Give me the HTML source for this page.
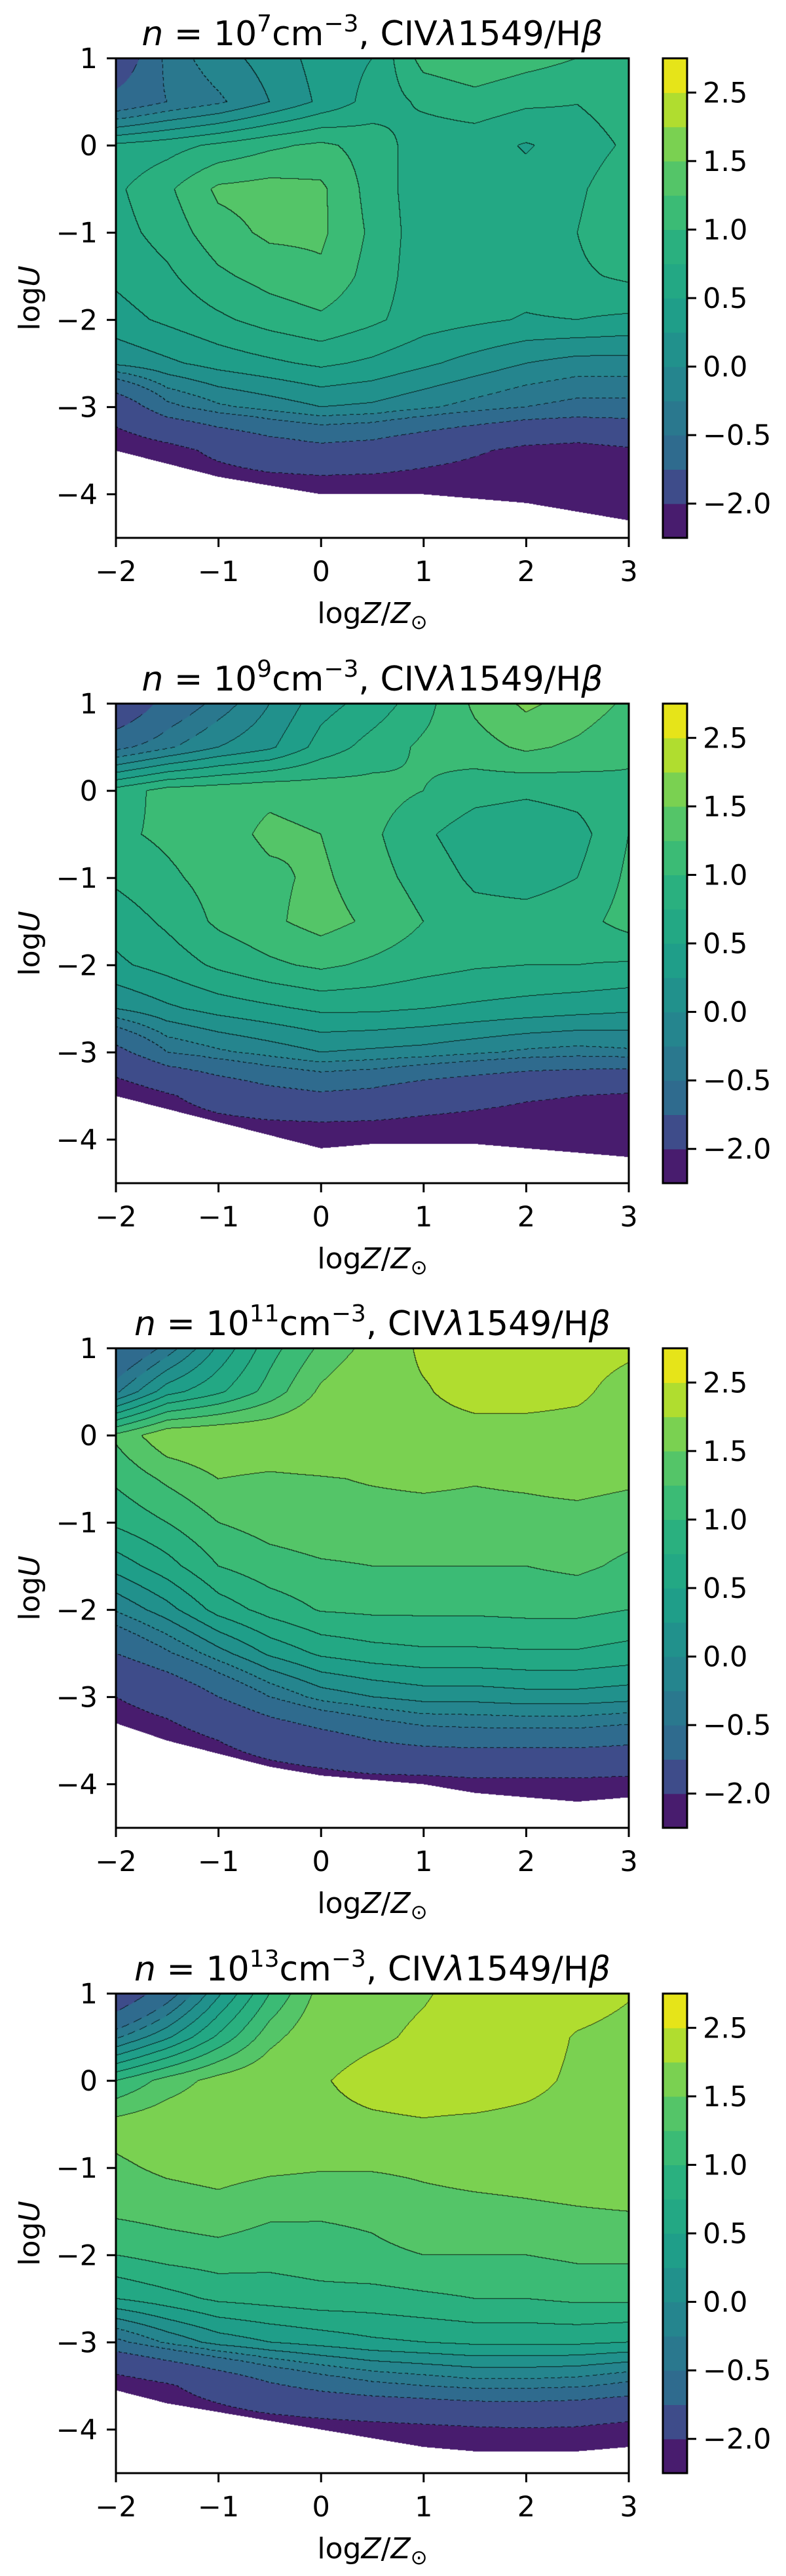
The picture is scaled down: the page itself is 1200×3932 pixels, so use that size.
<!DOCTYPE html>
<html>
<head>
<meta charset="utf-8">
<style>
  html, body { margin: 0; padding: 0; background: #ffffff; }
  #page { position: relative; width: 1200px; height: 3932px; overflow: hidden; background: #fff; }
  canvas { position: absolute; }
  svg { position: absolute; left: 0; top: 0; }
  text { font-family: "DejaVu Sans", "Liberation Sans", sans-serif; fill: #000; }
</style>
</head>
<body>
<div id="page">
  <svg id="overlay" width="1200" height="3932"></svg>
</div>
<script>
// ---------- data ----------
const xCategories = [-2, -1.5, -1, -0.5, 0, 0.5, 1, 1.5, 2, 2.5, 3];
const yCategories = [1, 0.5, 0, -0.5, -1, -1.5, -2, -2.5, -3, -3.5, -4, -4.5];
const levels = [-2, -1, -0.5, -0.25, 0, 0.25, 0.5, 0.75, 1, 1.25, 1.5, 2, 2.5];
const bandColors = ['#481c6e','#3e4c8a','#2f6b8e','#2a788e','#25858e','#21918c','#1f9e89','#23a884','#2ab07f','#3bbb75','#54c568','#7ad151','#b0dd2f','#e6e419'];
const xTicks = [-2, -1, 0, 1, 2, 3];
const yTicks = [1, 0, -1, -2, -3, -4];
const cbTicks = [2.5, 1.5, 1.0, 0.5, 0.0, -0.5, -2.0];
const densityExponents = [7, 9, 11, 13];

const grid7 = [
  [-1.5,-0.4,-0.1,0.1,0.35,0.5,1.1,1.2,1.1,1.0,0.95],
  [-0.8,-0.5,-0.3,0.0,0.3,0.6,0.8,0.9,0.8,0.76,0.9],
  [0.55,0.65,0.8,0.95,1.05,0.9,0.6,0.6,0.48,0.6,0.8],
  [0.7,0.95,1.3,1.35,1.3,0.9,0.6,0.58,0.58,0.7,0.95],
  [0.65,0.85,1.15,1.3,1.3,0.95,0.6,0.6,0.6,0.75,1.0],
  [0.55,0.7,0.95,1.1,1.2,0.9,0.6,0.6,0.6,0.7,0.8],
  [0.4,0.55,0.7,0.85,0.95,0.8,0.62,0.55,0.48,0.5,0.45],
  [0.05,0.2,0.35,0.45,0.55,0.45,0.3,0.15,0.0,-0.1,-0.1],
  [-1.5,-0.6,-0.3,-0.15,0.0,-0.05,-0.2,-0.35,-0.5,-0.6,-0.6],
  [-2.6,-2.3,-1.8,-1.4,-1.2,-1.3,-1.6,-1.9,-2.2,-2.3,-2.1],
  [-2.6,-2.6,-2.6,-2.6,-2.6,-2.6,-2.6,-2.6,-2.6,-2.6,-2.6],
  [-2.8,-2.8,-2.8,-2.8,-2.8,-2.8,-2.8,-2.8,-2.8,-2.8,-2.8]
];
const lower7 = [-3.5,-3.65,-3.8,-3.9,-4.0,-4.0,-4.0,-4.05,-4.1,-4.2,-4.3];

const grid9 = [
  [-1.6,-0.8,-0.4,0.0,0.4,0.6,0.9,1.3,1.55,1.4,1.2],
  [-0.6,-0.3,0.0,0.2,0.6,0.85,1.05,1.15,1.3,1.2,1.05],
  [0.85,1.1,1.15,1.2,1.15,1.1,1.0,0.85,0.8,0.85,0.95],
  [0.95,1.05,1.15,1.3,1.25,1.05,0.8,0.6,0.55,0.65,1.0],
  [0.8,0.95,1.1,1.2,1.3,1.1,0.9,0.7,0.65,0.75,1.05],
  [0.6,0.8,1.05,1.2,1.35,1.2,1.0,0.85,0.85,0.9,1.1],
  [0.45,0.6,0.8,0.95,1.05,0.95,0.85,0.78,0.75,0.75,0.72],
  [0.0,0.2,0.35,0.45,0.55,0.55,0.5,0.45,0.4,0.35,0.3],
  [-1.2,-0.5,-0.3,-0.15,0.0,-0.05,-0.1,-0.2,-0.3,-0.35,-0.3],
  [-2.6,-2.1,-1.6,-1.25,-1.1,-1.2,-1.5,-1.7,-1.9,-2.0,-2.1],
  [-2.6,-2.6,-2.6,-2.6,-2.6,-2.6,-2.6,-2.6,-2.6,-2.6,-2.6],
  [-2.8,-2.8,-2.8,-2.8,-2.8,-2.8,-2.8,-2.8,-2.8,-2.8,-2.8]
];
const lower9 = [-3.5,-3.65,-3.8,-3.95,-4.1,-4.05,-4.05,-4.05,-4.1,-4.15,-4.2];

const grid11 = [
  [-1.0,-0.4,0.3,0.9,1.3,1.6,2.1,2.2,2.2,2.2,2.1],
  [-0.3,0.4,0.7,1.1,1.55,1.8,1.95,2.2,2.2,2.1,1.8],
  [1.3,1.7,1.75,1.75,1.8,1.85,1.8,1.8,1.8,1.8,1.75],
  [1.05,1.3,1.5,1.45,1.48,1.52,1.55,1.52,1.55,1.6,1.55],
  [0.8,1.0,1.25,1.35,1.4,1.4,1.4,1.4,1.4,1.4,1.35],
  [0.35,0.65,1.0,1.15,1.22,1.25,1.25,1.25,1.25,1.3,1.2],
  [-0.22,0.15,0.6,0.85,1.02,1.05,1.05,1.05,1.07,1.07,1.0],
  [-1.0,-0.55,-0.1,0.3,0.55,0.65,0.7,0.7,0.72,0.72,0.65],
  [-2.0,-1.6,-1.0,-0.5,-0.15,0.0,0.1,0.1,0.15,0.15,0.1],
  [-2.6,-2.4,-2.0,-1.6,-1.3,-1.0,-0.8,-0.75,-0.75,-0.75,-0.85],
  [-2.8,-2.7,-2.6,-2.5,-2.4,-2.3,-2.3,-2.2,-2.2,-2.2,-2.25],
  [-2.8,-2.8,-2.8,-2.8,-2.8,-2.8,-2.8,-2.8,-2.8,-2.8,-2.8]
];
const lower11 = [-3.3,-3.5,-3.65,-3.8,-3.9,-3.95,-4.0,-4.1,-4.15,-4.2,-4.15];

const grid13 = [
  [-1.5,-0.7,0.2,1.0,1.6,1.8,1.95,2.2,2.3,2.3,2.05],
  [-0.3,0.2,0.8,1.4,1.75,1.9,2.1,2.3,2.3,1.95,1.8],
  [1.0,1.35,1.6,1.75,1.95,2.2,2.3,2.3,2.15,1.9,1.8],
  [1.6,1.7,1.75,1.8,1.85,1.9,1.95,1.9,1.85,1.8,1.8],
  [1.45,1.55,1.6,1.55,1.52,1.52,1.55,1.6,1.62,1.65,1.7],
  [1.3,1.35,1.4,1.3,1.28,1.3,1.4,1.42,1.45,1.48,1.5],
  [1.0,1.1,1.15,1.1,1.15,1.2,1.25,1.25,1.25,1.3,1.3],
  [0.5,0.65,0.8,0.85,0.9,0.9,0.95,1.0,1.0,1.05,1.05],
  [-0.6,-0.2,0.1,0.25,0.35,0.45,0.5,0.55,0.55,0.55,0.5],
  [-2.5,-2.1,-1.6,-1.1,-0.8,-0.6,-0.5,-0.4,-0.4,-0.45,-0.6],
  [-2.7,-2.65,-2.6,-2.5,-2.4,-2.3,-2.2,-2.1,-2.05,-2.1,-2.3],
  [-2.8,-2.8,-2.8,-2.8,-2.8,-2.8,-2.8,-2.8,-2.8,-2.8,-2.8]
];
const lower13 = [-3.55,-3.7,-3.8,-3.9,-4.0,-4.1,-4.2,-4.25,-4.25,-4.25,-4.2];

const panelGrids = [grid7, grid9, grid11, grid13];
const panelLowers = [lower7, lower9, lower11, lower13];

// ---------- layout ----------
const AX_L = 177, AX_W = 783, AX_H = 732;
const PANEL_TOPS = [89, 1074, 2058, 3043];
const CB_L = 1012, CB_W = 37;
const X_MIN = xCategories[0], X_MAX = xCategories[xCategories.length - 1];
const Y_MAX = yCategories[0];
const Y_MIN = -4.5;

function xScale(v) { return AX_L + (v - X_MIN) / (X_MAX - X_MIN) * AX_W; }
function yScale(v, top) { return top + (Y_MAX - v) / (Y_MAX - Y_MIN) * AX_H; }
function bandOf(v) { let b = 0; for (let i = 0; i < levels.length; i++) if (v >= levels[i]) b = i + 1; return b; }
function hexToRgb(h) { return [parseInt(h.substr(1,2),16), parseInt(h.substr(3,2),16), parseInt(h.substr(5,2),16)]; }
function fmt(v) { return v.toFixed(1).replace('-', '\u2212'); }
function fmtInt(v) { return String(v).replace('-', '\u2212'); }

const page = document.getElementById('page');
const svg = document.getElementById('overlay');
const NS = 'http://www.w3.org/2000/svg';

function drawContours(ctx, grid, lower) {
  const W = AX_W, H = AX_H;
  const img = ctx.createImageData(W, H);
  const band = new Int8Array(W * H);
  const nx = xCategories.length, ny = yCategories.length;
  const dx = xCategories[1] - xCategories[0];
  const dy = yCategories[0] - yCategories[1];
  for (let py = 0; py < H; py++) {
    const y = Y_MAX - (py + 0.5) / H * (Y_MAX - Y_MIN);
    let fy = (yCategories[0] - y) / dy;
    let j0 = Math.min(Math.floor(fy), ny - 2); if (j0 < 0) j0 = 0;
    const ty = fy - j0;
    for (let px = 0; px < W; px++) {
      const x = X_MIN + (px + 0.5) / W * (X_MAX - X_MIN);
      let fx = (x - xCategories[0]) / dx;
      let i0 = Math.min(Math.floor(fx), nx - 2); if (i0 < 0) i0 = 0;
      const tx = fx - i0;
      const lb = lower[i0] * (1 - tx) + lower[i0 + 1] * tx;
      const k = py * W + px;
      if (y < lb) { band[k] = -1; continue; }
      const v = grid[j0][i0] * (1 - tx) * (1 - ty) + grid[j0][i0 + 1] * tx * (1 - ty) +
                grid[j0 + 1][i0] * (1 - tx) * ty + grid[j0 + 1][i0 + 1] * tx * ty;
      band[k] = bandOf(v);
    }
  }
  const rgb = bandColors.map(hexToRgb);
  for (let py = 0; py < H; py++) {
    for (let px = 0; px < W; px++) {
      const k = py * W + px;
      const b = band[k];
      const o = k * 4;
      if (b < 0) { img.data[o] = 255; img.data[o+1] = 255; img.data[o+2] = 255; img.data[o+3] = 0; continue; }
      let c = rgb[b];
      let r = c[0], g = c[1], bl = c[2];
      let other = -1;
      if (px + 1 < W && band[k + 1] >= 0 && band[k + 1] !== b) other = band[k + 1];
      else if (py + 1 < H && band[k + W] >= 0 && band[k + W] !== b) other = band[k + W];
      if (other >= 0) {
        const lvl = levels[Math.max(b, other) - 1];
        let draw = true;
        if (lvl < 0) draw = ((px + py) % 10) < 6;
        if (draw) { r = r * 0.2; g = g * 0.2; bl = bl * 0.2; }
      }
      img.data[o] = r; img.data[o+1] = g; img.data[o+2] = bl; img.data[o+3] = 255;
    }
  }
  ctx.putImageData(img, 0, 0);
}

function addLine(x1, y1, x2, y2, w, name) {
  const l = document.createElementNS(NS, 'line');
  l.setAttribute('x1', x1); l.setAttribute('y1', y1); l.setAttribute('x2', x2); l.setAttribute('y2', y2);
  l.setAttribute('stroke', '#000'); l.setAttribute('stroke-width', w);
  
  
  svg.appendChild(l);
  return l;
}
function addText(x, y, str, size, anchor, name) {
  const t = document.createElementNS(NS, 'text');
  t.setAttribute('x', x); t.setAttribute('y', y);
  t.setAttribute('font-size', size); t.setAttribute('text-anchor', anchor);
  t.textContent = str;
  
  
  svg.appendChild(t);
  return t;
}

densityExponents.forEach((expn, p) => {
  const top = PANEL_TOPS[p];
  const bottom = top + AX_H;

  const cv = document.createElement('canvas');
  cv.width = AX_W; cv.height = AX_H;
  cv.style.left = AX_L + 'px'; cv.style.top = top + 'px';
  
  
  page.insertBefore(cv, svg);
  drawContours(cv.getContext('2d'), panelGrids[p], panelLowers[p]);

  const bandH = AX_H / bandColors.length;
  bandColors.forEach((col, b) => {
    const r = document.createElementNS(NS, 'rect');
    r.setAttribute('x', CB_L); r.setAttribute('width', CB_W);
    r.setAttribute('y', bottom - (b + 1) * bandH); r.setAttribute('height', bandH + 0.6);
    r.setAttribute('fill', col);
    
    
    svg.appendChild(r);
  });
  const cbFrame = document.createElementNS(NS, 'rect');
  cbFrame.setAttribute('x', CB_L); cbFrame.setAttribute('y', top);
  cbFrame.setAttribute('width', CB_W); cbFrame.setAttribute('height', AX_H);
  cbFrame.setAttribute('fill', 'none'); cbFrame.setAttribute('stroke', '#000'); cbFrame.setAttribute('stroke-width', 3);
  
  
  svg.appendChild(cbFrame);
  cbTicks.forEach(v => {
    const idx = levels.indexOf(v);
    const yy = bottom - (idx + 1) * bandH;
    addLine(CB_L + CB_W, yy, CB_L + CB_W + 14, yy, 3, 'colorbar-tick');
    addText(CB_L + CB_W + 24, yy + 15, fmt(v), 43, 'start', 'colorbar-tick-label');
  });

  const fr = document.createElementNS(NS, 'rect');
  fr.setAttribute('x', AX_L); fr.setAttribute('y', top);
  fr.setAttribute('width', AX_W); fr.setAttribute('height', AX_H);
  fr.setAttribute('fill', 'none'); fr.setAttribute('stroke', '#000'); fr.setAttribute('stroke-width', 3);
  
  
  svg.appendChild(fr);

  xTicks.forEach(v => {
    const xx = xScale(v);
    addLine(xx, bottom, xx, bottom + 14, 3, 'x-tick');
    addText(xx, bottom + 66, fmtInt(v), 43, 'middle', 'x-tick-label');
  });
  yTicks.forEach(v => {
    const yy = yScale(v, top);
    addLine(AX_L - 14, yy, AX_L, yy, 3, 'y-tick');
    addText(AX_L - 28, yy + 15, fmtInt(v), 43, 'end', 'y-tick-label');
  });

  const t = document.createElementNS(NS, 'text');
  t.setAttribute('x', AX_L + AX_W / 2); t.setAttribute('y', top - 20);
  t.setAttribute('font-size', 52); t.setAttribute('text-anchor', 'middle');
  t.innerHTML = '<tspan font-style="italic">n</tspan> = 10<tspan dy="-21" font-size="36">' + expn +
    '</tspan><tspan dy="21">cm</tspan><tspan dy="-21" font-size="36">\u22123</tspan><tspan dy="21">, CIV</tspan><tspan font-style="italic">\u03bb</tspan>1549/H<tspan font-style="italic">\u03b2</tspan>';
  
  
  svg.appendChild(t);

  const xl = document.createElementNS(NS, 'text');
  xl.setAttribute('x', AX_L + AX_W / 2); xl.setAttribute('y', bottom + 130);
  xl.setAttribute('font-size', 44); xl.setAttribute('text-anchor', 'middle');
  xl.innerHTML = 'log<tspan font-style="italic">Z</tspan>/<tspan font-style="italic">Z</tspan><tspan dy="9" font-size="31">\u2299</tspan>';
  
  
  svg.appendChild(xl);

  const yl = document.createElementNS(NS, 'text');
  const cy = top + AX_H / 2;
  yl.setAttribute('x', 60); yl.setAttribute('y', cy);
  yl.setAttribute('font-size', 44); yl.setAttribute('text-anchor', 'middle');
  yl.setAttribute('transform', 'rotate(-90 60 ' + cy + ')');
  yl.innerHTML = 'log<tspan font-style="italic">U</tspan>';
  
  
  svg.appendChild(yl);
});
</script>
</body>
</html>
